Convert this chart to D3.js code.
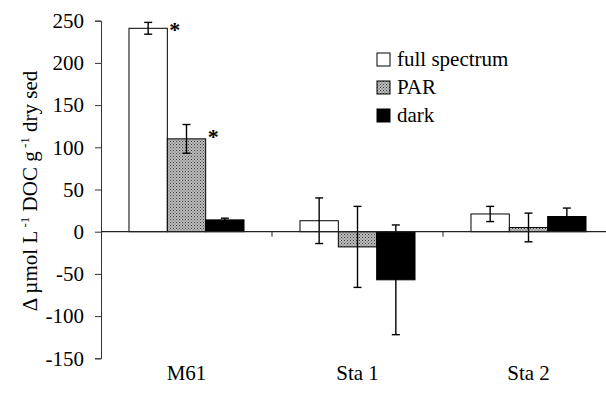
<!DOCTYPE html>
<html>
<head>
<meta charset="utf-8">
<script src="https://cdn.jsdelivr.net/npm/d3@7"></script>
<style>
  body { margin: 0; background: #fff; }
  svg text { font-family: "Liberation Serif", "Times New Roman", serif; fill: #000; }
</style>
</head>
<body>
<div id="chart"></div>
<script>
// data
let sites = ["M61", "Sta 1", "Sta 2"];
let treatments = ["full spectrum", "PAR", "dark"];
let fullSpectrum = [241, 13, 21];
let fullSpectrumErr = [7, 27, 9];
let par = [110, -18, 5];
let parErr = [17, 48, 17];
let dark = [14, -57, 18];
let darkErr = [2, 65, 10];
let yTicks = [-150, -100, -50, 0, 50, 100, 150, 200, 250];
// asterisks: [site, treatment]
let significant = [["M61", "full spectrum"], ["M61", "PAR"]];

let width = 606, height = 400;

let svg = d3.select("#chart")
    .append("svg")
    .attr("width", width)
    .attr("height", height);

// hatched grey fill for PAR
let defs = svg.append("defs");
let pat = defs.append("pattern")
    .attr("id", "parFill")
    .attr("patternUnits", "userSpaceOnUse")
    .attr("width", 3)
    .attr("height", 3);
pat.append("rect").attr("width", 3).attr("height", 3).attr("fill", "#bdbdbd");
pat.append("rect").attr("x", 0).attr("y", 0).attr("width", 1).attr("height", 1).attr("fill", "#3a3a3a");
pat.append("rect").attr("x", 1.5).attr("y", 1.5).attr("width", 1).attr("height", 1).attr("fill", "#555");

let fills = {"full spectrum": "#fff", "PAR": "url(#parFill)", "dark": "#000"};

let rows = sites.map(function(s, i) {
    return {
        site: s,
        values: [
            {key: "full spectrum", value: fullSpectrum[i], err: fullSpectrumErr[i]},
            {key: "PAR", value: par[i], err: parErr[i]},
            {key: "dark", value: dark[i], err: darkErr[i]}
        ]
    };
});

//scales
let x0 = d3.scaleBand()
    .domain(sites)
    .range([101, 614])
    .paddingInner(0)
    .paddingOuter(0);

let x1 = d3.scaleBand()
    .domain(treatments)
    .range([0, x0.bandwidth()])
    .paddingInner(0)
    .paddingOuter(0.73);

let y = d3.scaleLinear()
    .domain([-150, 250])
    .range([358.3, 20.7]);

//y axis (plain hyphen for negatives, like the original)
let yAxis = svg.append("g")
    .attr("transform", "translate(101,0)")
    .call(d3.axisLeft(y).tickValues(yTicks).tickSize(6).tickPadding(11)
        .tickFormat(function(d) { return String(d).replace("\u2212", "-"); }));
yAxis.select(".domain").attr("stroke", "#333").attr("stroke-width", 1);
yAxis.selectAll(".tick line").attr("stroke", "#333");
yAxis.selectAll(".tick text")
    .attr("fill", "#000")
    .style("font-family", "'Liberation Serif', 'Times New Roman', serif")
    .style("font-size", "21px");

//bars
let groups = svg.selectAll("g.site")
    .data(rows)
    .enter()
    .append("g")
    .attr("class", "site")
    .attr("transform", function(d) { return "translate(" + x0(d.site) + ",0)"; });

groups.selectAll("rect")
    .data(function(d) { return d.values; })
    .enter()
    .append("rect")
    .attr("x", function(d) { return x1(d.key); })
    .attr("y", function(d) { return y(Math.max(0, d.value)); })
    .attr("width", x1.bandwidth())
    .attr("height", function(d) { return Math.abs(y(d.value) - y(0)); })
    .attr("fill", function(d) { return fills[d.key]; })
    .attr("stroke", "#000")
    .attr("stroke-width", 1);

//x axis along zero
svg.append("line")
    .attr("x1", 101).attr("x2", width)
    .attr("y1", y(0)).attr("y2", y(0))
    .attr("stroke", "#222").attr("stroke-width", 1.2);

svg.selectAll("line.xtick")
    .data(sites.slice(1))
    .enter()
    .append("line")
    .attr("class", "xtick")
    .attr("x1", function(d) { return x0(d); })
    .attr("x2", function(d) { return x0(d); })
    .attr("y1", y(0))
    .attr("y2", y(0) + 5)
    .attr("stroke", "#222");

svg.selectAll("text.xlab")
    .data(sites)
    .enter()
    .append("text")
    .attr("class", "xlab")
    .attr("x", function(d) { return x0(d) + x0.bandwidth() / 2; })
    .attr("y", 380)
    .attr("text-anchor", "middle")
    .style("font-size", "21px")
    .text(function(d) { return d; });

//error bars
let errs = groups.selectAll("g.err")
    .data(function(d) { return d.values; })
    .enter()
    .append("g")
    .attr("class", "err")
    .attr("stroke", "#000")
    .attr("stroke-width", 1.4);

errs.append("line")
    .attr("x1", function(d) { return x1(d.key) + x1.bandwidth() / 2; })
    .attr("x2", function(d) { return x1(d.key) + x1.bandwidth() / 2; })
    .attr("y1", function(d) { return y(d.value + d.err); })
    .attr("y2", function(d) { return y(d.value - d.err); });

errs.append("line")
    .attr("x1", function(d) { return x1(d.key) + x1.bandwidth() / 2 - 4; })
    .attr("x2", function(d) { return x1(d.key) + x1.bandwidth() / 2 + 4; })
    .attr("y1", function(d) { return y(d.value + d.err); })
    .attr("y2", function(d) { return y(d.value + d.err); });

errs.append("line")
    .attr("x1", function(d) { return x1(d.key) + x1.bandwidth() / 2 - 4; })
    .attr("x2", function(d) { return x1(d.key) + x1.bandwidth() / 2 + 4; })
    .attr("y1", function(d) { return y(d.value - d.err); })
    .attr("y2", function(d) { return y(d.value - d.err); });

//asterisks
svg.selectAll("text.star")
    .data(significant)
    .enter()
    .append("text")
    .attr("class", "star")
    .attr("x", function(d) { return x0(d[0]) + x1(d[1]) + x1.bandwidth() + 2; })
    .attr("y", function(d) {
        let r = rows[sites.indexOf(d[0])].values[treatments.indexOf(d[1])];
        return y(r.value + r.err / 2) + 12;
    })
    .style("font-size", "22px")
    .style("font-weight", "bold")
    .text("*");

//legend
let legend = svg.selectAll("g.legend")
    .data(treatments)
    .enter()
    .append("g")
    .attr("class", "legend")
    .attr("transform", function(d, i) { return "translate(377," + (53 + i * 28) + ")"; });

legend.append("rect")
    .attr("width", 13)
    .attr("height", 13)
    .attr("fill", function(d) { return fills[d]; })
    .attr("stroke", "#000")
    .attr("stroke-width", 1);

legend.append("text")
    .attr("x", 20)
    .attr("y", 13)
    .style("font-size", "21px")
    .text(function(d) { return d; });

//y title
let yTitle = svg.append("text")
    .attr("transform", "translate(37,191) rotate(-90)")
    .attr("text-anchor", "middle")
    .style("font-size", "21px");
yTitle.append("tspan").text("\u0394 \u00b5mol L");
yTitle.append("tspan").attr("dy", -8).style("font-size", "13px").text(" -1");
yTitle.append("tspan").attr("dy", 8).text(" DOC g");
yTitle.append("tspan").attr("dy", -8).style("font-size", "13px").text(" -1");
yTitle.append("tspan").attr("dy", 8).text(" dry sed");
</script>
</body>
</html>
